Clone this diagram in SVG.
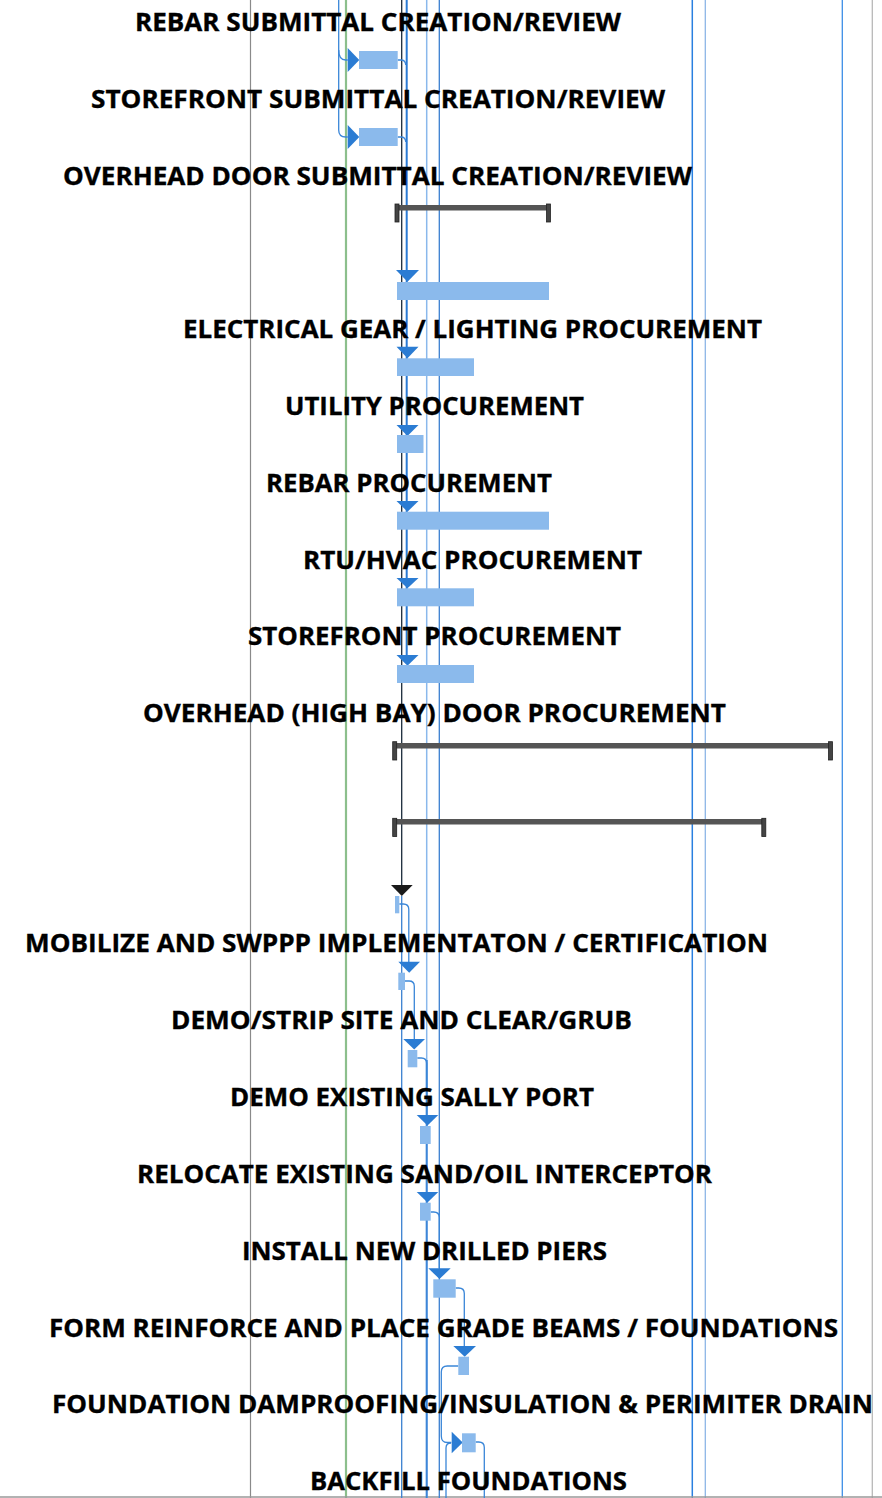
<svg xmlns="http://www.w3.org/2000/svg" width="882" height="1498" viewBox="0 0 882 1498">
<style>
.lbl{font-family:"Open Sans","Liberation Sans",sans-serif;font-weight:bold;font-size:25px;fill:#000;stroke:#000;stroke-width:0.35;text-anchor:middle}
.bar{fill:#8bbaec}
.arr{fill:#2b7cd3}
.con{fill:none;stroke:#3a86d8;stroke-width:1.3}
.sum{fill:#555}
.cap{fill:#444;stroke:#222;stroke-width:0.8}
</style>
<rect width="882" height="1498" fill="#fff"/>
<g id="grid">
<line x1="250.5" y1="0" x2="250.5" y2="1498" stroke="#8a8a8a" stroke-width="1.2"/>
<line x1="346" y1="0" x2="346" y2="1498" stroke="#8cbf8c" stroke-width="2.2"/>
<line x1="692.3" y1="0" x2="692.3" y2="1498" stroke="#2a80e0" stroke-width="1.5"/>
<line x1="705.3" y1="0" x2="705.3" y2="1498" stroke="#8db6e6" stroke-width="1.3"/>
<line x1="842.3" y1="0" x2="842.3" y2="1498" stroke="#3d8ee6" stroke-width="1.3"/>
<line x1="872.3" y1="0" x2="872.3" y2="1498" stroke="#b8b8b8" stroke-width="1.3"/>
<line x1="0" y1="1497" x2="882" y2="1497" stroke="#999" stroke-width="1.5"/>
</g>
<g id="connectors">
<line x1="426.7" y1="0" x2="426.7" y2="1498" stroke="#8ab8ec" stroke-width="1.5"/>
<line x1="439.3" y1="0" x2="439.3" y2="1498" stroke="#3a7fd0" stroke-width="1.3"/>
<line x1="401.7" y1="0" x2="401.7" y2="886" stroke="#1a2a3a" stroke-width="1.3"/>
<line x1="401.7" y1="896" x2="401.7" y2="1498" stroke="#3a80d0" stroke-width="1.3"/>
<line x1="406.7" y1="0" x2="406.7" y2="656" stroke="#2a7ad5" stroke-width="2"/>
<line x1="426.7" y1="1060" x2="426.7" y2="1498" stroke="#3d86d8" stroke-width="2"/>
<path class="con" stroke="#4a8edf" d="M338.7,0 V130 q0,7 7,7 h2"/>
<path class="con" stroke="#4a8edf" d="M338.7,50 q0,10 7,10 h2"/>
<path class="con" d="M397.7,60 h3 q5,0 5,5"/>
<path class="con" d="M397.7,137 h3 q5,0 5,5"/>
<path class="con" d="M399.3,904 h4 q5.5,0 5.5,5.5 V962"/>
<path class="con" d="M405,981 h4 q5.3,0 5.3,5.3 V1039"/>
<path class="con" d="M417.3,1058 h4 q5.4,0 5.4,5.4 V1115"/>
<path class="con" d="M430.7,1212 h3 q5.6,0 5.6,5.6 V1268"/>
<path class="con" d="M455.7,1288 h3 q5.6,0 5.6,5.6 V1346"/>
<path class="con" d="M458.3,1366 h-11 q-6,0 -6,6 V1436 q0,6.5 6,6.5 h4"/>
<path class="con" d="M475.7,1442 h3 q5.6,0 5.6,5.6 V1498"/>
<path class="con" d="M451,1443 q-5,0 -5,5 V1498"/>
<polygon class="arr" points="347.7,48 359.3,60 347.7,72"/>
<polygon class="arr" points="347.7,125 359.3,137 347.7,149"/>
<polygon class="arr" points="396,270 419,270 407.5,281.7"/>
<polygon class="arr" points="396.5,346.7 418.5,346.7 407.5,358.3"/>
<polygon class="arr" points="396.5,425 418.5,425 407.5,436"/>
<polygon class="arr" points="396.5,501 418.5,501 407.5,511.7"/>
<polygon class="arr" points="396.5,578 418.5,578 407.5,588.3"/>
<polygon class="arr" points="396.5,655 418.5,655 407.5,665.7"/>
<polygon fill="#1a1a1a" points="391,885 412.7,885 401.8,896"/>
<polygon class="arr" points="398.3,961.7 420,961.7 409.2,972.7"/>
<polygon class="arr" points="403.3,1039 425,1039 414.2,1049.5"/>
<polygon class="arr" points="416.7,1115 438.3,1115 427.5,1125.5"/>
<polygon class="arr" points="416.7,1192 438.3,1192 427.5,1202.5"/>
<polygon class="arr" points="428.3,1268.3 450.7,1268.3 439.5,1279"/>
<polygon class="arr" points="453.3,1346 476,1346 464.7,1356.7"/>
<polygon class="arr" points="451.7,1431.7 462.7,1442.5 451.7,1453.3"/>
</g>
<g id="summaries">
<rect class="sum" x="397" y="205" width="152" height="5.5"/>
<rect class="cap" x="395" y="204" width="4" height="18"/>
<rect class="cap" x="546.5" y="204" width="4" height="18"/>
<rect class="sum" x="395" y="743" width="436" height="5.5"/>
<rect class="cap" x="392.7" y="741.7" width="4" height="18.3"/>
<rect class="cap" x="828.5" y="741.7" width="4" height="18.3"/>
<rect class="sum" x="395" y="819" width="369" height="5.5"/>
<rect class="cap" x="392.7" y="818.3" width="4" height="18.3"/>
<rect class="cap" x="761.8" y="818.3" width="4" height="18.3"/>
</g>
<g id="task-rebar-submittal"><rect class="bar" x="359" y="51" width="38.7" height="18"/><text class="lbl" x="378" y="30.7" textLength="486" lengthAdjust="spacingAndGlyphs">REBAR SUBMITTAL CREATION/REVIEW</text></g>
<g id="task-storefront-submittal"><rect class="bar" x="359" y="128" width="38.7" height="18"/><text class="lbl" x="378" y="107.7" textLength="574" lengthAdjust="spacingAndGlyphs">STOREFRONT SUBMITTAL CREATION/REVIEW</text></g>
<g id="task-overhead-submittal"><text class="lbl" x="377.5" y="184.5" textLength="629" lengthAdjust="spacingAndGlyphs">OVERHEAD DOOR SUBMITTAL CREATION/REVIEW</text></g>
<g id="task-electrical"><rect class="bar" x="397" y="282" width="152" height="18"/><text class="lbl" x="472.5" y="338" textLength="579" lengthAdjust="spacingAndGlyphs">ELECTRICAL GEAR / LIGHTING PROCUREMENT</text></g>
<g id="task-utility"><rect class="bar" x="397" y="358.3" width="77" height="17.7"/><text class="lbl" x="434.5" y="415" textLength="299" lengthAdjust="spacingAndGlyphs">UTILITY PROCUREMENT</text></g>
<g id="task-rebar-proc"><rect class="bar" x="397" y="435" width="26.5" height="18"/><text class="lbl" x="409" y="492" textLength="286" lengthAdjust="spacingAndGlyphs">REBAR PROCUREMENT</text></g>
<g id="task-rtu"><rect class="bar" x="397" y="511.7" width="152" height="18"/><text class="lbl" x="472.5" y="568.5" textLength="339" lengthAdjust="spacingAndGlyphs">RTU/HVAC PROCUREMENT</text></g>
<g id="task-storefront-proc"><rect class="bar" x="397" y="588.3" width="77" height="18"/><text class="lbl" x="434.5" y="645" textLength="373" lengthAdjust="spacingAndGlyphs">STOREFRONT PROCUREMENT</text></g>
<g id="task-overhead-proc"><rect class="bar" x="397" y="665" width="77" height="18"/><text class="lbl" x="434.5" y="722" textLength="583" lengthAdjust="spacingAndGlyphs">OVERHEAD (HIGH BAY) DOOR PROCUREMENT</text></g>
<g id="task-mobilize"><rect class="bar" x="395" y="896" width="4.3" height="17.3"/><text class="lbl" x="396.5" y="952" textLength="743" lengthAdjust="spacingAndGlyphs">MOBILIZE AND SWPPP IMPLEMENTATON / CERTIFICATION</text></g>
<g id="task-demo-strip"><rect class="bar" x="398.3" y="972.7" width="6.7" height="17.3"/><text class="lbl" x="401.5" y="1029" textLength="461" lengthAdjust="spacingAndGlyphs">DEMO/STRIP SITE AND CLEAR/GRUB</text></g>
<g id="task-demo-sally"><rect class="bar" x="407.7" y="1050" width="9.6" height="17.3"/><text class="lbl" x="412" y="1106" textLength="364" lengthAdjust="spacingAndGlyphs">DEMO EXISTING SALLY PORT</text></g>
<g id="task-relocate"><rect class="bar" x="420" y="1126" width="10.7" height="18"/><text class="lbl" x="424.5" y="1183" textLength="575" lengthAdjust="spacingAndGlyphs">RELOCATE EXISTING SAND/OIL INTERCEPTOR</text></g>
<g id="task-piers"><rect class="bar" x="420" y="1202.7" width="10.7" height="18"/><text class="lbl" x="424.5" y="1260" textLength="365" lengthAdjust="spacingAndGlyphs">INSTALL NEW DRILLED PIERS</text></g>
<g id="task-grade-beams"><rect class="bar" x="433.3" y="1279.3" width="22.4" height="18.4"/><text class="lbl" x="443.5" y="1336.5" textLength="789" lengthAdjust="spacingAndGlyphs">FORM REINFORCE AND PLACE GRADE BEAMS / FOUNDATIONS</text></g>
<g id="task-damproofing"><rect class="bar" x="458.3" y="1356.7" width="10.7" height="18.3"/><text class="lbl" x="462.5" y="1413" textLength="821" lengthAdjust="spacingAndGlyphs">FOUNDATION DAMPROOFING/INSULATION &amp; PERIMITER DRAIN</text></g>
<g id="task-backfill"><rect class="bar" x="462" y="1433.3" width="13.7" height="19"/><text class="lbl" x="468.5" y="1490" textLength="317" lengthAdjust="spacingAndGlyphs">BACKFILL FOUNDATIONS</text></g>
</svg>
